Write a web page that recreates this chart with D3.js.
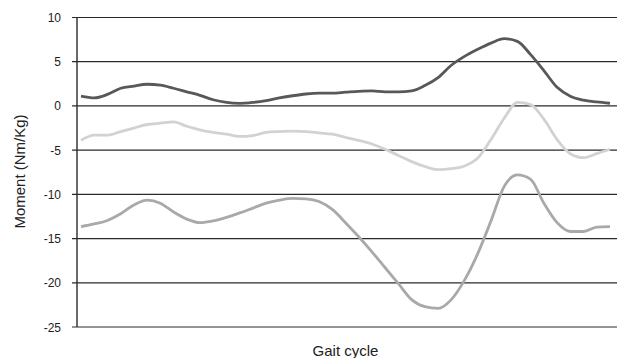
<!DOCTYPE html>
<html>
<head>
<meta charset="utf-8">
<script src="https://cdn.jsdelivr.net/npm/d3@7"></script>
<style>
  body { margin: 0; background: #fff; }
  svg { display: block; }
</style>
</head>
<body>
<svg width="617" height="358"></svg>
<script>
var width = 617;
var height = 358;

// Gait cycle (%) shared by every series
var gaitPct = d3.range(0, 101, 2.5);

// Moment values (Nm/Kg)
var darkSeries = [1.1, 0.9, 1.3, 2.0, 2.25, 2.45, 2.35, 2.0, 1.6, 1.2, 0.7, 0.4, 0.3, 0.4, 0.6, 0.9,
  1.15, 1.35, 1.45, 1.45, 1.55, 1.65, 1.7, 1.6, 1.6, 1.7, 2.3, 3.2, 4.6, 5.6, 6.4, 7.1, 7.6, 7.3,
  5.8, 4.0, 2.1, 1.1, 0.65, 0.45, 0.3];
var lightSeries = [-3.9, -3.3, -3.3, -2.9, -2.5, -2.1, -1.95, -1.8, -2.3, -2.7, -3.0, -3.2, -3.45,
  -3.35, -3.0, -2.9, -2.85, -2.9, -3.05, -3.2, -3.55, -3.9, -4.3, -4.9, -5.6, -6.3, -6.85, -7.2,
  -7.1, -6.8, -5.9, -3.8, -1.4, 0.4, 0.15, -1.5, -3.8, -5.4, -5.85, -5.4, -4.9];
var midSeries = [-13.65, -13.35, -12.95, -12.2, -11.2, -10.65, -11.0, -12.0, -12.8, -13.2, -13.0,
  -12.6, -12.1, -11.55, -11.0, -10.65, -10.45, -10.5, -10.8, -11.7, -13.2, -14.8, -16.5, -18.3,
  -20.1, -21.9, -22.7, -22.9, -21.9, -19.7, -16.7, -13.0, -9.1, -7.8, -8.3, -11.0, -13.2, -14.2,
  -14.2, -13.7, -13.65];

var yTicks = [10, 5, 0, -5, -10, -15, -20, -25];

var svg = d3.select("svg");

var x = d3.scaleLinear().domain([0, 100]).range([81, 610]);
var y = d3.scaleLinear().domain([-25, 10]).range([327, 17.5]);

// gridlines (they also serve as tick marks left of the axis)
svg.append("g")
  .selectAll("line")
  .data(yTicks)
  .enter().append("line")
  .attr("x1", 72)
  .attr("x2", 617)
  .attr("y1", d => y(d))
  .attr("y2", d => y(d))
  .attr("stroke", "#2a2a2a")
  .attr("stroke-width", 1.2);

// y axis line
svg.append("line")
  .attr("x1", 77).attr("x2", 77)
  .attr("y1", y(10)).attr("y2", y(-25))
  .attr("stroke", "#2a2a2a")
  .attr("stroke-width", 1.4);

// tick labels
svg.append("g")
  .selectAll("text")
  .data(yTicks)
  .enter().append("text")
  .attr("x", 61)
  .attr("y", d => y(d) + 4.5)
  .attr("text-anchor", "end")
  .attr("font-family", "Liberation Sans, Arial, sans-serif")
  .attr("font-size", "12px")
  .attr("fill", "#222")
  .text(d => d);

// axis titles
svg.append("text")
  .attr("transform", "translate(24.5," + 171.5 + ") rotate(-90)")
  .attr("text-anchor", "middle")
  .attr("font-family", "Liberation Sans, Arial, sans-serif")
  .attr("font-size", "15px")
  .attr("fill", "#222")
  .text("Moment (Nm/Kg)");

svg.append("text")
  .attr("x", 345.5)
  .attr("y", 356)
  .attr("text-anchor", "middle")
  .attr("font-family", "Liberation Sans, Arial, sans-serif")
  .attr("font-size", "15px")
  .attr("fill", "#222")
  .text("Gait cycle");

var line = d3.line()
  .x((d, i) => x(gaitPct[i]))
  .y(d => y(d))
  .curve(d3.curveMonotoneX);

var series = [
  { values: lightSeries, color: "#d2d2d2" },
  { values: midSeries, color: "#a9a9a9" },
  { values: darkSeries, color: "#585858" }
];

svg.append("g")
  .selectAll("path")
  .data(series)
  .enter().append("path")
  .attr("d", d => line(d.values))
  .attr("fill", "none")
  .attr("stroke", d => d.color)
  .attr("stroke-width", 2.8)
  .attr("stroke-linejoin", "round");
</script>
</body>
</html>
